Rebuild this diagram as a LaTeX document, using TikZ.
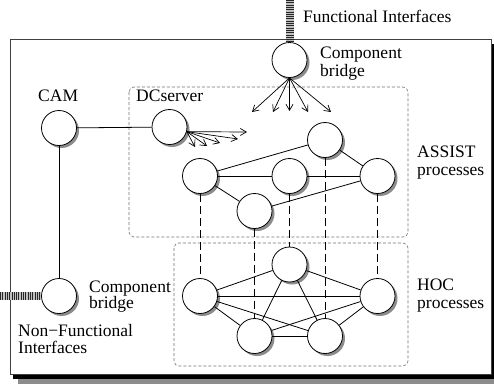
\documentclass[tikz,border=0pt]{standalone}
\usepackage{fontspec}
\setmainfont{Liberation Serif}
\usetikzlibrary{arrows.meta,shadows}
\begin{document}
\begin{tikzpicture}[x=1pt,y=-1pt,
  proc/.style={circle,draw,fill=white,minimum size=35pt,inner sep=0pt,line width=0.8pt,
    drop shadow={shadow xshift=2.5pt,shadow yshift=-2.5pt,fill=black!45,opacity=1}},
  lbl/.style={anchor=base west,inner sep=0pt,font=\fontsize{17.5}{18}\selectfont},
  edge/.style={line width=0.8pt},
  vdash/.style={line width=0.8pt,dash pattern=on 8pt off 4pt},
  grp/.style={draw=black!55,line width=0.6pt,dash pattern=on 3pt off 2pt,rounded corners=5pt},
  arr/.style={line width=0.7pt,-{Straight Barb[length=6pt,width=7pt]}},
  iface/.style={line width=8pt,draw=black!25},
  ifacestripe/.style={line width=8pt,draw=black!85,dash pattern=on 0.9pt off 1.4pt}]
\useasboundingbox (0,0) rectangle (494,384);
% outer frame with shadow
\fill[black!45] (18,49) rectangle (499,384);
\fill[black] (13,44) rectangle (494,379);
\filldraw[fill=white,draw=black!75,line width=0.8pt] (10,39) rectangle (491,374);
% groups
\draw[grp] (129,87) rectangle (408,237);
\draw[grp] (174,243) rectangle (408,366);
% nodes
\node[proc] (cbt) at (289.5,60) {};
\node[proc] (cam) at (59,128) {};
\node[proc] (dcs) at (169.5,127) {};
\node[proc] (a1) at (325,140) {};
\node[proc] (a2) at (200,176) {};
\node[proc] (a3) at (289.5,176) {};
\node[proc] (a4) at (377.5,176) {};
\node[proc] (a5) at (254.5,211) {};
\node[proc] (h1) at (289.5,264.5) {};
\node[proc] (h2) at (200,296) {};
\node[proc] (h3) at (377.5,296) {};
\node[proc] (h4) at (254.5,336) {};
\node[proc] (h5) at (325,336) {};
\node[proc] (cbl) at (59,296) {};
% interfaces
\coordinate (fi) at (289.5,0);
\coordinate (nfi) at (0,296);
\draw[iface] (fi) -- (cbt.north);
\draw[ifacestripe] (fi) -- (cbt.north);
\draw[iface] (nfi) -- (cbl.west);
\draw[ifacestripe] (nfi) -- (cbl.west);
% solid edges
\draw[edge] (cam) -- (dcs);
\draw[edge] (cam) -- (cbl);
\draw[edge] (a2) -- (a1);
\draw[edge] (a2) -- (a3);
\draw[edge] (a3) -- (a4);
\draw[edge] (a2) -- (a5);
\draw[edge] (a5) -- (a4);
\draw[edge] (a1) -- (a4);
\foreach \u/\v in {h1/h2,h1/h3,h1/h4,h1/h5,h2/h3,h2/h4,h2/h5,h3/h4,h3/h5,h4/h5}
  \draw[edge] (\u) -- (\v);
% dashed verticals
\draw[vdash] (a2.south) -- (h2.north);
\draw[vdash] (a5.south) -- (h4.north);
\draw[vdash] (a3.south) -- (h1.north);
\draw[vdash] (a1.south) -- (h5.north);
\draw[vdash] (a4.south) -- (h3.north);
% arrows from top bridge
\coordinate (t1) at (252,112);
\coordinate (t2) at (273,112);
\coordinate (t3) at (289.5,111);
\coordinate (t4) at (308,112);
\coordinate (t5) at (331,112);
\foreach \t in {t1,t2,t3,t4,t5}
  \draw[arr] (cbt.south) -- (\t);
% arrows from DCserver
\coordinate (d1) at (247,132);
\coordinate (d2) at (238,139);
\coordinate (d3) at (220,143);
\coordinate (d4) at (207,146);
\coordinate (d5) at (195,147);
\foreach \t in {d1,d2,d3,d4,d5}
  \draw[arr] (dcs.-15) -- (\t);
% labels
\node[lbl] (lfi) at (303,22) {Functional Interfaces};
\node[lbl] (lcbt1) at (320,58) {Component};
\node[lbl] (lcbt2) at (320,76) {bridge};
\node[lbl] (lcam) at (38,101) {CAM};
\node[lbl] (ldcs) at (136,101) {DCserver};
\node[lbl] (las1) at (417,157) {ASSIST};
\node[lbl] (las2) at (417,175) {processes};
\node[lbl] (lhoc1) at (417,290) {HOC};
\node[lbl] (lhoc2) at (417,308) {processes};
\node[lbl] (lcbl1) at (89,292) {Component};
\node[lbl] (lcbl2) at (89,308) {bridge};
\node[lbl] (lnf1) at (18,336) {Non−Functional};
\node[lbl] (lnf2) at (18,353) {Interfaces};
\end{tikzpicture}
\end{document}
